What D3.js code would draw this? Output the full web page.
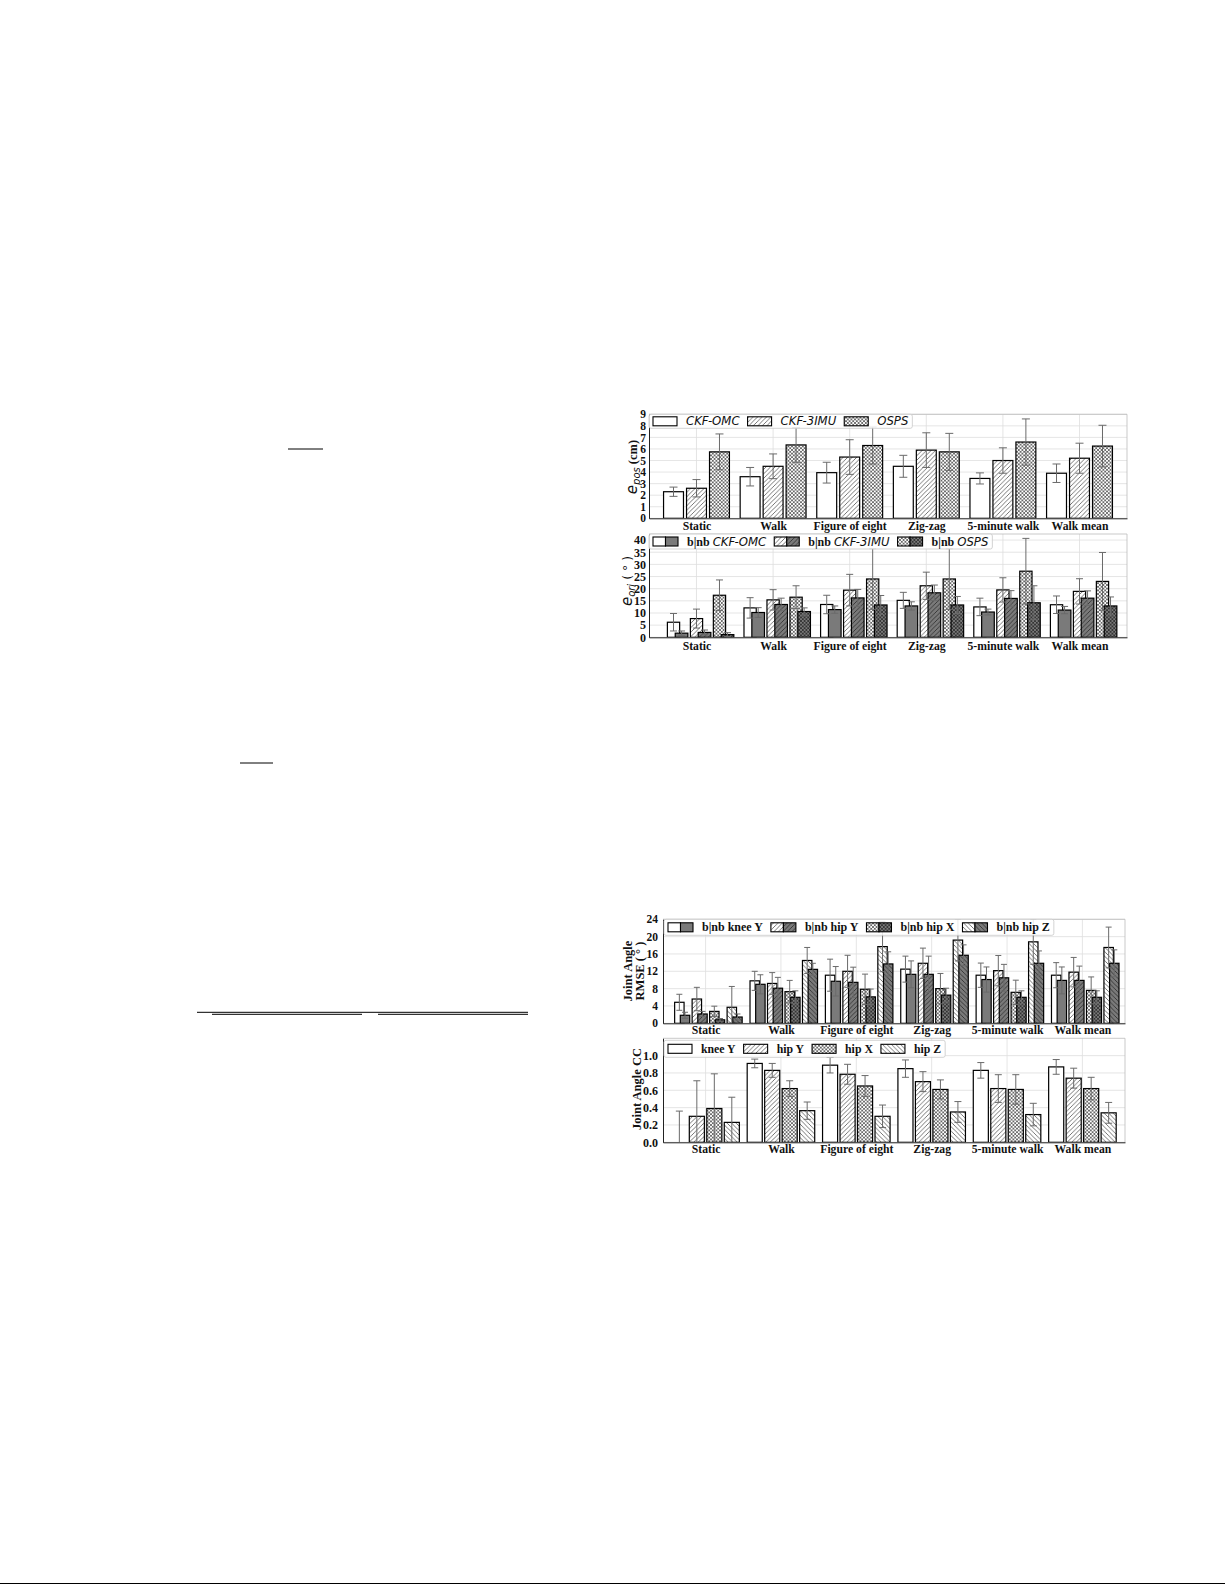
<!DOCTYPE html>
<html>
<head>
<meta charset="utf-8">
<script src="https://cdn.jsdelivr.net/npm/d3@7"></script>
<style>
body { margin: 0; background: #fff; }
</style>
</head>
<body>
<svg id="page" width="1225" height="1585"></svg>
<script>
// categories shared by all four panels
var groups = ["Static", "Walk", "Figure of eight", "Zig-zag", "5-minute walk", "Walk mean"];

// panel 1: position error e_pos (cm)
var posTicks = [0, 1, 2, 3, 4, 5, 6, 7, 8, 9];
var posOMC = [2.3, 3.6, 3.95, 4.5, 3.45, 3.9];
var posOMCErr = [0.4, 0.8, 0.9, 0.95, 0.48, 0.8];
var pos3IMU = [2.6, 4.5, 5.3, 5.9, 5.0, 5.2];
var pos3IMUErr = [0.75, 1.07, 1.5, 1.5, 1.1, 1.3];
var posOSPS = [5.75, 6.35, 6.3, 5.75, 6.6, 6.25];
var posOSPSErr = [1.55, 1.5, 1.6, 1.6, 2.0, 1.8];

// panel 2: orientation error e_ori (deg), b = white, nb = dark
var oriTicks = [0, 5, 10, 15, 20, 25, 30, 35, 40];
var oriOMC_b = [6.2, 12.1, 13.5, 15.2, 12.5, 13.4];
var oriOMC_bErr = [3.6, 4.2, 3.8, 3.3, 3.6, 3.6];
var oriOMC_nb = [1.7, 10.2, 11.4, 12.9, 10.4, 11.2];
var oriOMC_nbErr = [0.9, 2.0, 1.5, 1.7, 1.2, 1.5];
var ori3IMU_b = [7.7, 15.4, 19.4, 21.2, 19.5, 18.9];
var ori3IMU_bErr = [3.9, 4.2, 6.5, 5.6, 5.0, 5.2];
var ori3IMU_nb = [2.0, 13.5, 16.2, 18.3, 16.0, 16.1];
var ori3IMU_nbErr = [1.0, 2.6, 3.5, 3.2, 3.2, 3.0];
var oriOSPS_b = [17.3, 16.5, 24.0, 24.0, 27.2, 23.0];
var oriOSPS_bErr = [6.3, 4.7, 12.5, 12.5, 13.5, 11.9];
var oriOSPS_nb = [1.1, 10.6, 13.3, 13.3, 14.2, 12.9];
var oriOSPS_nbErr = [0.8, 1.5, 3.9, 3.5, 7.0, 3.7];

// panel 3: joint angle RMSE (deg)
var rmseTicks = [0, 4, 8, 12, 16, 20, 24];
var kneeY_b = [4.85, 9.8, 11.1, 12.5, 11.1, 11.1];
var kneeY_bErr = [1.85, 2.2, 3.7, 3.0, 2.8, 2.9];
var kneeY_nb = [1.85, 9.0, 9.7, 11.3, 10.1, 9.9];
var kneeY_nbErr = [0.7, 2.2, 3.4, 3.1, 2.9, 3.1];
var hipY_b = [5.6, 9.2, 12.0, 13.85, 12.15, 11.8];
var hipY_bErr = [2.7, 2.5, 3.7, 3.5, 3.5, 3.4];
var hipY_nb = [2.15, 8.1, 9.45, 11.3, 10.5, 9.9];
var hipY_nbErr = [0.6, 2.5, 3.5, 4.2, 3.1, 3.3];
var hipX_b = [2.75, 7.3, 7.85, 8.0, 7.15, 7.6];
var hipX_bErr = [1.2, 2.6, 3.5, 3.5, 2.8, 3.1];
var hipX_nb = [0.8, 6.0, 6.1, 6.5, 6.0, 6.0];
var hipX_nbErr = [0.3, 1.5, 1.8, 1.6, 1.5, 1.5];
var hipZ_b = [3.7, 14.5, 17.7, 19.2, 18.8, 17.5];
var hipZ_bErr = [4.8, 3.0, 5.8, 4.8, 5.2, 4.7];
var hipZ_nb = [1.45, 12.45, 13.7, 15.7, 13.85, 13.85];
var hipZ_nbErr = [0.7, 1.4, 2.8, 2.4, 2.85, 3.1];

// panel 4: joint angle correlation coefficient
var ccTicks = [0, 0.2, 0.4, 0.6, 0.8, 1.0];
var ccKneeY = [0, 0.91, 0.89, 0.85, 0.83, 0.87];
var ccKneeYErr = [0.36, 0.05, 0.09, 0.1, 0.09, 0.085];
var ccHipY = [0.30, 0.83, 0.785, 0.70, 0.62, 0.74];
var ccHipYErr = [0.41, 0.08, 0.115, 0.115, 0.16, 0.115];
var ccHipX = [0.39, 0.62, 0.65, 0.61, 0.61, 0.62];
var ccHipXErr = [0.4, 0.09, 0.12, 0.11, 0.17, 0.13];
var ccHipZ = [0.23, 0.365, 0.30, 0.35, 0.32, 0.34];
var ccHipZErr = [0.29, 0.1, 0.13, 0.12, 0.13, 0.12];

var SERIF = "'Liberation Serif','Times New Roman',serif";
var SANS = "'DejaVu Sans',sans-serif";
var DARK = "#7a7a7a";

var svg = d3.select("#page");
var defs = svg.append("defs");

//makes a hatch pattern, kind is diag (////), back (\\\\) or cross (xxxx)
function hatch(id, bg, color, kind, s) {
	var p = defs.append("pattern")
		.attr("id", id)
		.attr("patternUnits", "userSpaceOnUse")
		.attr("width", s)
		.attr("height", s);
	p.append("rect").attr("width", s).attr("height", s).attr("fill", bg);
	var d = "";
	if (kind == "diag" || kind == "cross")
		d += "M0," + s + " L" + s + ",0 M-1,1 L1,-1 M" + (s - 1) + "," + (s + 1) + " L" + (s + 1) + "," + (s - 1) + " ";
	if (kind == "back" || kind == "cross")
		d += "M0,0 L" + s + "," + s + " M" + (s - 1) + ",-1 L" + (s + 1) + ",1 M-1," + (s - 1) + " L1," + (s + 1);
	p.append("path").attr("d", d).attr("stroke", color).attr("stroke-width", 0.8).attr("fill", "none");
}
hatch("diagL", "#fff", "#555", "diag", 4.5);
hatch("diagD", DARK, "#2a2a2a", "diag", 4.5);
hatch("crossL", "#fff", "#555", "cross", 3.6);
hatch("crossD", DARK, "#2a2a2a", "cross", 3.6);
hatch("backL", "#fff", "#555", "back", 4.5);
hatch("backD", DARK, "#2a2a2a", "back", 4.5);

var clipCount = 0;

//draws one bar panel: grid, bars, error bars, axes
function drawPanel(p) {
	var g = svg.append("g");
	var x = d3.scaleLinear().domain(p.xDomain).range([p.left, p.right]);
	var y = d3.scaleLinear().domain([0, p.yMax]).range([p.bottom, p.top]);
	var cid = "clip" + (clipCount++);
	defs.append("clipPath").attr("id", cid).append("rect")
		.attr("x", p.left).attr("y", p.top)
		.attr("width", p.right - p.left).attr("height", p.bottom - p.top);

	// grid
	g.append("g").selectAll("line").data(p.ticks).join("line")
		.attr("x1", p.left).attr("x2", p.right)
		.attr("y1", function(d) { return y(d); }).attr("y2", function(d) { return y(d); })
		.attr("stroke", "#dedede").attr("stroke-width", 0.8);
	g.append("g").selectAll("line").data(groups).join("line")
		.attr("x1", function(d, i) { return x(i); }).attr("x2", function(d, i) { return x(i); })
		.attr("y1", p.top).attr("y2", p.bottom)
		.attr("stroke", "#dedede").attr("stroke-width", 0.8);
	// light top and right frame
	g.append("path")
		.attr("d", "M" + p.left + "," + p.top + " H" + p.right + " V" + p.bottom)
		.attr("fill", "none").attr("stroke", "#bbb").attr("stroke-width", 0.8);

	var bars = g.append("g").attr("clip-path", "url(#" + cid + ")");
	p.series.forEach(function(s) {
		bars.append("g").selectAll("rect").data(s.vals).join("rect")
			.attr("x", function(d, i) { return x(i + s.off - s.w / 2); })
			.attr("width", x(s.w) - x(0))
			.attr("y", function(d) { return y(d); })
			.attr("height", function(d) { return y(0) - y(d); })
			.attr("fill", s.fill)
			.attr("stroke", "#000")
			.attr("stroke-width", 1.2)
			.style("display", function(d) { return d > 0 ? null : "none"; });
	});
	p.series.forEach(function(s) {
		var eg = bars.append("g").attr("stroke", "#6a6a6a").attr("stroke-width", 1);
		s.vals.forEach(function(v, i) {
			var cx = x(i + s.off);
			var hi = y(v + s.errs[i]), lo = y(Math.max(0, v - s.errs[i]));
			eg.append("line").attr("x1", cx).attr("x2", cx).attr("y1", hi).attr("y2", lo);
			eg.append("line").attr("x1", cx - p.cap).attr("x2", cx + p.cap).attr("y1", hi).attr("y2", hi);
			if (v - s.errs[i] > 0)
				eg.append("line").attr("x1", cx - p.cap).attr("x2", cx + p.cap).attr("y1", lo).attr("y2", lo);
		});
	});

	// axes
	var ya = g.append("g").attr("transform", "translate(" + p.left + ",0)")
		.call(d3.axisLeft(y).tickValues(p.ticks).tickFormat(p.fmt).tickSize(0).tickPadding(p.ypad));
	ya.select(".domain").attr("stroke", "#222").attr("stroke-width", 1);
	ya.selectAll("text").attr("font-family", SERIF).attr("font-weight", "bold")
		.attr("font-size", p.tickSize).attr("fill", "#111");
	var xa = g.append("g").attr("transform", "translate(0," + p.bottom + ")")
		.call(d3.axisBottom(x).tickValues(d3.range(groups.length))
			.tickFormat(function(i) { return groups[i]; }).tickSize(0).tickPadding(p.xpad));
	xa.select(".domain").attr("stroke", "#222").attr("stroke-width", 1);
	xa.selectAll("text").attr("font-family", SERIF).attr("font-weight", "bold")
		.attr("font-size", 11.7).attr("fill", "#111");

	if (p.legend) drawLegend(p.left + (p.legendDx || 0), p.top + (p.legendDy || 0), p.legendH, p.legend);
	return g;
}

//legend row: handles followed by text, placed one after another
function drawLegend(x0, y0, h, items) {
	var lg = svg.append("g");
	var box = lg.append("rect")
		.attr("x", x0).attr("y", y0).attr("height", h).attr("rx", 2)
		.attr("fill", "#fff").attr("fill-opacity", 0.85)
		.attr("stroke", "#c8c8c8").attr("stroke-width", 0.8);
	var cx = x0 + 4;
	items.forEach(function(it) {
		var hw = it.handles.length > 1 ? 12.5 : 24;
		it.handles.forEach(function(f) {
			lg.append("rect").attr("x", cx).attr("y", y0 + h / 2 - 4.5)
				.attr("width", hw).attr("height", 9)
				.attr("fill", f).attr("stroke", "#000").attr("stroke-width", 1.1);
			cx += hw;
		});
		cx += 9;
		var t = lg.append("text").attr("x", cx).attr("y", y0 + h / 2 + 4).attr("fill", "#111");
		it.parts.forEach(function(pt) {
			var ts = t.append("tspan").text(pt.text);
			if (pt.italic) ts.attr("font-family", SANS).attr("font-style", "italic").attr("font-size", 11.7);
			else ts.attr("font-family", SERIF).attr("font-weight", "bold").attr("font-size", pt.size || 12);
		});
		cx += t.node().getComputedTextLength() + 8;
	});
	box.attr("width", cx - x0 - 4);
}

var fmtInt = d3.format("d");

// ---- panel 1
drawPanel({
	left: 649, right: 1127, top: 414.3, bottom: 518.3,
	xDomain: [-0.62, 5.62], yMax: 9, ticks: posTicks, fmt: fmtInt,
	tickSize: 11.5, ypad: 3, xpad: 3.5, cap: 4,
	series: [
		{ vals: posOMC, errs: posOMCErr, off: -0.3, w: 0.26, fill: "#fff" },
		{ vals: pos3IMU, errs: pos3IMUErr, off: 0, w: 0.26, fill: "url(#diagL)" },
		{ vals: posOSPS, errs: posOSPSErr, off: 0.3, w: 0.26, fill: "url(#crossL)" }
	],
	legendH: 14,
	legend: [
		{ handles: ["#fff"], parts: [{ text: "CKF-OMC", italic: true }] },
		{ handles: ["url(#diagL)"], parts: [{ text: "CKF-3IMU", italic: true }] },
		{ handles: ["url(#crossL)"], parts: [{ text: "OSPS", italic: true }] }
	]
});

// ---- panel 2
drawPanel({
	left: 649, right: 1127, top: 534, bottom: 637.3,
	xDomain: [-0.62, 5.62], yMax: 42.5, ticks: oriTicks, fmt: fmtInt,
	tickSize: 12, ypad: 3, xpad: 4, cap: 3.5,
	series: [
		{ vals: oriOMC_b, errs: oriOMC_bErr, off: -0.3, w: 0.16, fill: "#fff" },
		{ vals: oriOMC_nb, errs: oriOMC_nbErr, off: -0.195, w: 0.165, fill: DARK },
		{ vals: ori3IMU_b, errs: ori3IMU_bErr, off: 0, w: 0.16, fill: "url(#diagL)" },
		{ vals: ori3IMU_nb, errs: ori3IMU_nbErr, off: 0.105, w: 0.165, fill: "url(#diagD)" },
		{ vals: oriOSPS_b, errs: oriOSPS_bErr, off: 0.3, w: 0.16, fill: "url(#crossL)" },
		{ vals: oriOSPS_nb, errs: oriOSPS_nbErr, off: 0.405, w: 0.165, fill: "url(#crossD)" }
	],
	legendH: 15,
	legend: [
		{ handles: ["#fff", DARK], parts: [{ text: "b|nb " }, { text: "CKF-OMC", italic: true }] },
		{ handles: ["url(#diagL)", "url(#diagD)"], parts: [{ text: "b|nb " }, { text: "CKF-3IMU", italic: true }] },
		{ handles: ["url(#crossL)", "url(#crossD)"], parts: [{ text: "b|nb " }, { text: "OSPS", italic: true }] }
	]
});

// ---- panel 3
var off4 = [-0.348, -0.116, 0.116, 0.348];
drawPanel({
	left: 663, right: 1125, top: 919.3, bottom: 1023.3,
	xDomain: [-0.565, 5.565], yMax: 24, ticks: rmseTicks, fmt: fmtInt,
	tickSize: 11.5, ypad: 5, xpad: 2.5, cap: 3,
	series: [
		{ vals: kneeY_b, errs: kneeY_bErr, off: off4[0], w: 0.125, fill: "#fff" },
		{ vals: kneeY_nb, errs: kneeY_nbErr, off: off4[0] + 0.075, w: 0.125, fill: DARK },
		{ vals: hipY_b, errs: hipY_bErr, off: off4[1], w: 0.125, fill: "url(#diagL)" },
		{ vals: hipY_nb, errs: hipY_nbErr, off: off4[1] + 0.075, w: 0.125, fill: "url(#diagD)" },
		{ vals: hipX_b, errs: hipX_bErr, off: off4[2], w: 0.125, fill: "url(#crossL)" },
		{ vals: hipX_nb, errs: hipX_nbErr, off: off4[2] + 0.075, w: 0.125, fill: "url(#crossD)" },
		{ vals: hipZ_b, errs: hipZ_bErr, off: off4[3], w: 0.125, fill: "url(#backL)" },
		{ vals: hipZ_nb, errs: hipZ_nbErr, off: off4[3] + 0.075, w: 0.125, fill: "url(#backD)" }
	],
	legendH: 16, legendDx: 1,
	legend: [
		{ handles: ["#fff", DARK], parts: [{ text: "b|nb knee Y" }] },
		{ handles: ["url(#diagL)", "url(#diagD)"], parts: [{ text: "b|nb hip Y" }] },
		{ handles: ["url(#crossL)", "url(#crossD)"], parts: [{ text: "b|nb hip X" }] },
		{ handles: ["url(#backL)", "url(#backD)"], parts: [{ text: "b|nb hip Z" }] }
	]
});

// ---- panel 4
drawPanel({
	left: 663, right: 1125, top: 1038.3, bottom: 1142.3,
	xDomain: [-0.565, 5.565], yMax: 1.2, ticks: ccTicks, fmt: d3.format(".1f"),
	tickSize: 12, ypad: 5, xpad: 2.5, cap: 3.5,
	series: [
		{ vals: ccKneeY, errs: ccKneeYErr, off: off4[0], w: 0.2, fill: "#fff" },
		{ vals: ccHipY, errs: ccHipYErr, off: off4[1], w: 0.2, fill: "url(#diagL)" },
		{ vals: ccHipX, errs: ccHipXErr, off: off4[2], w: 0.2, fill: "url(#crossL)" },
		{ vals: ccHipZ, errs: ccHipZErr, off: off4[3], w: 0.2, fill: "url(#backL)" }
	],
	legendH: 17, legendDx: 1, legendDy: 2,
	legend: [
		{ handles: ["#fff"], parts: [{ text: "knee Y", size: 11.8 }] },
		{ handles: ["url(#diagL)"], parts: [{ text: "hip Y", size: 11.8 }] },
		{ handles: ["url(#crossL)"], parts: [{ text: "hip X", size: 11.8 }] },
		{ handles: ["url(#backL)"], parts: [{ text: "hip Z", size: 11.8 }] }
	]
});

// y axis titles
var t1 = svg.append("text").attr("transform", "translate(637,467) rotate(-90)")
	.attr("text-anchor", "middle").attr("fill", "#111");
t1.append("tspan").text("e").attr("font-family", SANS).attr("font-style", "italic").attr("font-size", 15);
t1.append("tspan").text("pos").attr("font-family", SANS).attr("font-style", "italic").attr("font-size", 10).attr("dy", 3);
t1.append("tspan").text(" (cm)").attr("font-family", SERIF).attr("font-weight", "bold").attr("font-size", 12.5).attr("dy", -3);

var t2 = svg.append("text").attr("transform", "translate(632,581) rotate(-90)")
	.attr("text-anchor", "middle").attr("fill", "#111");
t2.append("tspan").text("e").attr("font-family", SANS).attr("font-style", "italic").attr("font-size", 15);
t2.append("tspan").text("ori").attr("font-family", SANS).attr("font-style", "italic").attr("font-size", 10).attr("dy", 3);
t2.append("tspan").text(" ( \u00B0 )").attr("font-family", SANS).attr("font-size", 12.5).attr("dy", -3);

var t3 = svg.append("text").attr("transform", "translate(632,971) rotate(-90)")
	.attr("text-anchor", "middle").attr("fill", "#111")
	.attr("font-family", SERIF).attr("font-weight", "bold").attr("font-size", 12.5);
t3.append("tspan").text("Joint Angle").attr("x", 0).attr("y", 0);
t3.append("tspan").text("RMSE ( \u00B0 )").attr("x", 0).attr("y", 11.5);

svg.append("text").attr("transform", "translate(641,1089) rotate(-90)")
	.attr("text-anchor", "middle").attr("fill", "#111")
	.attr("font-family", SERIF).attr("font-weight", "bold").attr("font-size", 12.5)
	.text("Joint Angle CC");

// stray rules from the surrounding page text
var rules = svg.append("g").attr("stroke", "#000");
rules.append("line").attr("x1", 288).attr("x2", 323).attr("y1", 449).attr("y2", 449).attr("stroke-width", 1);
rules.append("line").attr("x1", 240).attr("x2", 273).attr("y1", 763).attr("y2", 763).attr("stroke-width", 1);
rules.append("line").attr("x1", 197).attr("x2", 528).attr("y1", 1012.3).attr("y2", 1012.3).attr("stroke-width", 1);
rules.append("line").attr("x1", 212).attr("x2", 362).attr("y1", 1014.3).attr("y2", 1014.3).attr("stroke-width", 1);
rules.append("line").attr("x1", 378).attr("x2", 528).attr("y1", 1014.3).attr("y2", 1014.3).attr("stroke-width", 1);
rules.append("line").attr("x1", 0).attr("x2", 1225).attr("y1", 1583.5).attr("y2", 1583.5).attr("stroke-width", 1.2);
</script>
</body>
</html>
